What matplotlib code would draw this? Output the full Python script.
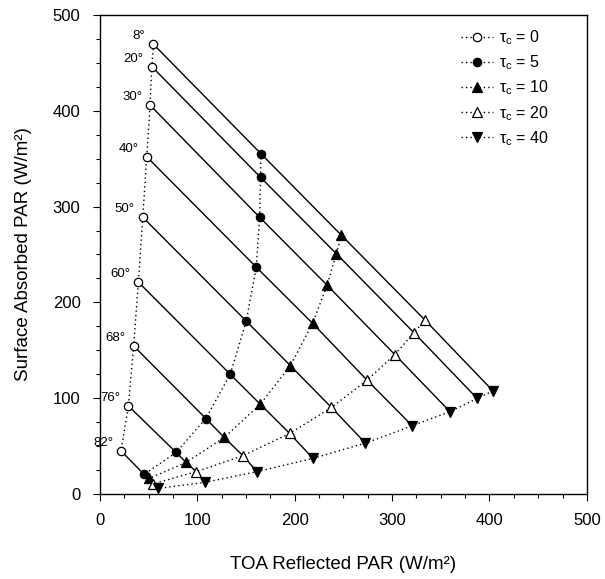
import matplotlib
matplotlib.use("Agg")
import matplotlib.pyplot as plt
from matplotlib.ticker import MultipleLocator

plt.rcParams['font.family'] = ['Liberation Sans', 'DejaVu Sans']
plt.rcParams['mathtext.fontset'] = 'custom'
plt.rcParams['mathtext.rm'] = 'Liberation Sans'
plt.rcParams['mathtext.it'] = 'Liberation Sans'

# === Data === #
angles = ["8°", "20°", "30°", "40°", "50°", "60°", "68°", "76°", "82°"]
taus = [0, 5, 10, 20, 40]

toa_tau0 = [54.9, 53.2, 51.4, 48.0, 43.9, 39.4, 34.6, 29.1, 21.6]
sfc_tau0 = [469.4, 446.2, 405.9, 352.0, 288.9, 221.2, 154.5, 92.0, 45.0]
toa_tau5 = [165.3, 164.9, 163.9, 160.5, 150.2, 133.7, 108.7, 78.2, 45.3]
sfc_tau5 = [355.2, 330.5, 288.9, 236.8, 180.5, 125.0, 78.8, 43.4, 20.5]
toa_tau10 = [247.9, 242.8, 233.2, 218.4, 195.5, 164.6, 127.6, 88.5, 50.7]
sfc_tau10 = [270.1, 250.7, 218.0, 178.1, 134.0, 93.7, 59.0, 33.0, 16.3]
toa_tau20 = [333.7, 322.4, 302.8, 274.3, 237.7, 194.8, 146.8, 98.8, 54.2]
sfc_tau20 = [181.6, 168.4, 145.5, 118.8, 90.3, 63.2, 40.0, 23.3, 10.4]
toa_tau40 = [403.6, 387.4, 359.4, 320.7, 272.6, 218.7, 161.2, 108.0, 60.0]
sfc_tau40 = [107.6, 99.7, 86.0, 71.2, 53.1, 37.2, 23.3, 12.2, 5.9]

toa = [toa_tau0, toa_tau5, toa_tau10, toa_tau20, toa_tau40]
sfc = [sfc_tau0, sfc_tau5, sfc_tau10, sfc_tau20, sfc_tau40]

# marker styles per optical depth
markers = ['o', 'o', '^', '^', 'v']
faces = ['white', 'black', 'black', 'white', 'black']
sizes = [6, 6, 6.5, 6.5, 6.5]

fig = plt.figure(figsize=(6.05, 5.79), dpi=100)
ax = fig.add_axes([0.1653, 0.1468, 0.8047, 0.8273])

# solid lines: constant solar zenith angle
for i in range(len(angles)):
    xs = [t[i] for t in toa]
    ys = [s[i] for s in sfc]
    ax.plot(xs, ys, color='black', lw=1.0, zorder=2)

# dotted lines + markers: constant optical depth
for k, tau in enumerate(taus):
    ax.plot(toa[k], sfc[k], linestyle=(0, (1, 2.2)), color='black', lw=1.0,
            marker=markers[k], markersize=sizes[k], markerfacecolor=faces[k],
            markeredgecolor='black', markeredgewidth=0.9,
            label=r'$\tau_c$ = %d' % tau, zorder=3)

# zenith angle labels
for i, a in enumerate(angles):
    ax.annotate(a, (toa_tau0[i], sfc_tau0[i]), textcoords='offset pixels',
                xytext=(-8, 2), ha='right', va='bottom', fontsize=9.5)

ax.set_xlim(0, 500)
ax.set_ylim(0, 500)
ax.xaxis.set_major_locator(MultipleLocator(100))
ax.yaxis.set_major_locator(MultipleLocator(100))
ax.xaxis.set_minor_locator(MultipleLocator(25))
ax.yaxis.set_minor_locator(MultipleLocator(25))
ax.tick_params(which='major', direction='out', length=5, width=0.8, labelsize=12, pad=9)
ax.tick_params(which='minor', direction='out', length=3, width=0.8)
for sp in ax.spines.values():
    sp.set_linewidth(1.0)

ax.set_xlabel("TOA Reflected PAR (W/m²)", fontsize=13.5, labelpad=20)
ax.set_ylabel("Surface Absorbed PAR (W/m²)", fontsize=13.5, labelpad=15)

ax.legend(loc='upper right', frameon=False, fontsize=11.5, handlelength=2.0,
          handletextpad=0.4, labelspacing=0.4, borderaxespad=0.3,
          bbox_to_anchor=(0.945, 0.995))

plt.savefig("out.png", dpi=100)
